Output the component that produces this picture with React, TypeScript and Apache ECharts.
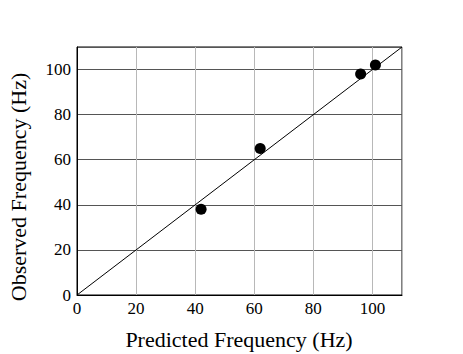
import React, { useEffect, useRef } from "react";
import * as echarts from "echarts";

const predicted = [42, 62, 96, 101];
const observed = [38, 65, 98, 102];
const identityLine = [
  [0, 0],
  [110, 110],
];
const xTitle = "Predicted Frequency (Hz)";
const yTitle = "Observed Frequency (Hz)";

export default function App() {
  const ref = useRef<HTMLDivElement>(null);
  useEffect(() => {
    const chart = echarts.init(ref.current!, null, { renderer: "svg" });
    const font = "Liberation Serif";
    chart.setOption({
      animation: false,
      backgroundColor: "#fff",
      grid: {
        left: 77,
        top: 47,
        right: 61,
        bottom: 59,
        show: true,
        borderColor: "#000",
        borderWidth: 1,
        backgroundColor: "transparent",
      },
      graphic: [
        {
          type: "text",
          x: 239,
          y: 339,
          style: {
            text: xTitle,
            fontFamily: font,
            fontSize: 22,
            fill: "#000",
            align: "center",
            verticalAlign: "middle",
          },
        },
        {
          type: "text",
          x: 18,
          y: 187,
          rotation: Math.PI / 2,
          style: {
            text: yTitle,
            fontFamily: font,
            fontSize: 22,
            fill: "#000",
            align: "center",
            verticalAlign: "middle",
          },
        },
      ],
      xAxis: {
        type: "value",
        min: 0,
        max: 110,
        interval: 20,
        axisLine: { show: true, onZero: false, lineStyle: { color: "#000", width: 1 } },
        axisTick: { show: false },
        axisLabel: {
          fontFamily: font,
          fontSize: 17,
          color: "#000",
          margin: 5,
          showMaxLabel: false,
        },
        splitLine: { show: true, lineStyle: { color: "#b8b8b8", width: 1 } },
      },
      yAxis: {
        type: "value",
        min: 0,
        max: 110,
        interval: 20,
        axisLine: { show: true, onZero: false, lineStyle: { color: "#000", width: 1 } },
        axisTick: { show: false },
        axisLabel: {
          fontFamily: font,
          fontSize: 17,
          color: "#000",
          margin: 6,
          showMaxLabel: false,
        },
        splitLine: { show: true, lineStyle: { color: "#555", width: 1 } },
      },
      series: [
        {
          type: "line",
          data: identityLine,
          showSymbol: false,
          lineStyle: { color: "#000", width: 1 },
          silent: true,
          z: 3,
        },
        {
          type: "scatter",
          data: predicted.map((p, i) => [p, observed[i]]),
          symbol: "circle",
          symbolSize: 11,
          itemStyle: { color: "#000", opacity: 1 },
          z: 4,
        },
      ],
    });
    return () => chart.dispose();
  }, []);
  return <div ref={ref} style={{ width: 463, height: 354, position: "absolute", left: 0, top: 0 }} />;
}
